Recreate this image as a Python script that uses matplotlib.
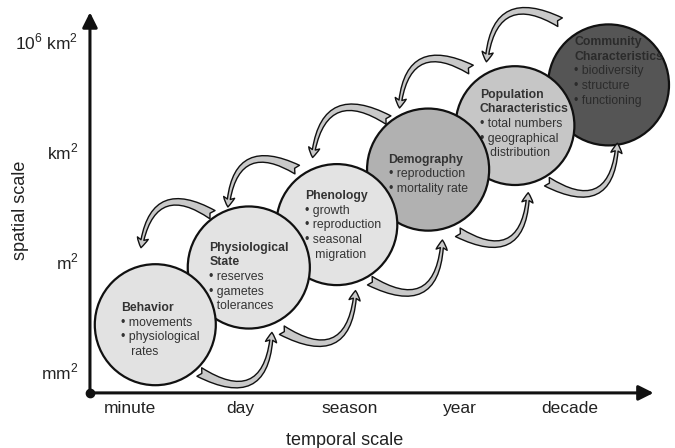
import matplotlib
matplotlib.use("Agg")
import matplotlib.pyplot as plt
from matplotlib.patches import Circle, FancyArrowPatch

plt.rcParams["font.family"] = ["Liberation Sans", "DejaVu Sans"]
plt.rcParams["mathtext.fontset"] = "custom"
plt.rcParams["mathtext.rm"] = "Liberation Sans"

# axes categories
time_labels = ["minute", "day", "season", "year", "decade"]
space_labels = ["mm$^2$", "m$^2$", "km$^2$", "10$^6$ km$^2$"]

# stages (centre in temporal / spatial units, 1 unit = one tick step)
stage_titles = ["Behavior", "Physiological\nState", "Phenology", "Demography",
                "Population\nCharacteristics", "Community\nCharacteristics"]
stage_items = [
    ["movements", "physiological\nrates"],
    ["reserves", "gametes", "tolerances"],
    ["growth", "reproduction", "seasonal\nmigration"],
    ["reproduction", "mortality rate"],
    ["total numbers", "geographical\ndistribution"],
    ["biodiversity", "structure", "functioning"],
]
stage_x = [0.23, 1.08, 1.88, 2.71, 3.50, 4.35]
stage_y = [0.43, 0.95, 1.34, 1.84, 2.24, 2.61]
stage_r = [0.55, 0.555, 0.55, 0.555, 0.54, 0.55]
stage_fill = ["#e2e2e2", "#e3e3e3", "#e3e3e3", "#b1b1b1", "#c6c6c6", "#555555"]
text_x = [-0.08, 0.72, 1.59, 2.35, 3.18, 4.04]
text_top = [0.58, 1.13, 1.60, 1.93, 2.52, 3.0]

# curved arrows (tail -> head)
up_tail = [(0.75, 1.43), (1.52, 1.84), (2.35, 2.29), (3.10, 2.75), (3.91, 3.18)]
up_head = [(0.10, 1.13), (0.89, 1.50), (1.66, 1.95), (2.45, 2.40), (3.24, 2.82)]
low_tail = [(0.63, 0.0), (1.38, 0.38), (2.18, 0.83), (2.98, 1.27), (3.79, 1.73)]
low_head = [(1.29, 0.36), (2.05, 0.74), (2.84, 1.20), (3.62, 1.63), (4.43, 2.08)]

fig = plt.figure(figsize=(6.75, 4.48), dpi=100)
ax = fig.add_axes([0, 0, 1, 1])
ax.set_xlim(-130 / 110, 545 / 110)
ax.set_ylim(-76 / 110, 372 / 110)
ax.axis("off")

x0, y0 = -0.364, -0.19
ax.annotate("", xy=(x0, 3.27), xytext=(x0, y0),
            arrowprops=dict(arrowstyle="-|>,head_length=0.9,head_width=0.45",
                            lw=2.2, color="#111111", shrinkA=0, shrinkB=0))
ax.annotate("", xy=(4.76, y0), xytext=(x0, y0),
            arrowprops=dict(arrowstyle="-|>,head_length=0.9,head_width=0.45",
                            lw=2.2, color="#111111", shrinkA=0, shrinkB=0))
ax.plot([x0], [y0], "o", color="#111111", ms=6, zorder=5)

for i, lab in enumerate(time_labels):
    ax.text(i, -0.26, lab, ha="center", va="top", fontsize=12.5, color="#222222")
for j, lab in enumerate(space_labels):
    ax.text(-0.47, j, lab, ha="right", va="center", fontsize=12.5, color="#222222")
ax.text(1.95, -0.62, "temporal scale", ha="center", va="center",
        fontsize=13, color="#222222")
ax.text(-1.0, 1.47, "spatial scale", ha="center", va="center",
        rotation=90, fontsize=13, color="#222222")

n = len(stage_titles)
for i in range(n):
    z = 10 + (n - i) * 2
    ax.add_patch(Circle((stage_x[i], stage_y[i]), stage_r[i], fc=stage_fill[i],
                        ec="#111111", lw=1.6, zorder=z))
    tc = "#2b2b2b" if i == n - 1 else "#333333"
    lines = [(t, True) for t in stage_titles[i].split("\n")]
    for it in stage_items[i]:
        parts = it.split("\n")
        lines.append(("\u2022 " + parts[0], False))
        for p in parts[1:]:
            lines.append(("   " + p, False))
    for k, (t, bold) in enumerate(lines):
        ax.text(text_x[i], text_top[i] - k * 0.133, t, ha="left", va="center",
                fontsize=8.8, color=tc, fontweight="bold" if bold else "normal",
                zorder=z + 1)

style = "fancy,head_length=7,head_width=8,tail_width=7"
for t, h in zip(up_tail, up_head):
    ax.add_patch(FancyArrowPatch(t, h, connectionstyle="arc3,rad=0.75",
                                 arrowstyle=style, fc="#c9c9c9", ec="#111111",
                                 lw=1.0, zorder=30, shrinkA=0, shrinkB=0))
for t, h in zip(low_tail, low_head):
    ax.add_patch(FancyArrowPatch(t, h, connectionstyle="arc3,rad=0.8",
                                 arrowstyle=style, fc="#c9c9c9", ec="#111111",
                                 lw=1.0, zorder=30, shrinkA=0, shrinkB=0))

fig.savefig("out.png", dpi=100)
